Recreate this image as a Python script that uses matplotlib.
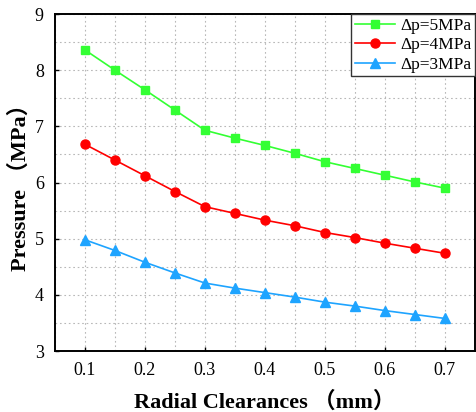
import numpy as np
import matplotlib
matplotlib.use("Agg")
import matplotlib.pyplot as plt
from matplotlib.ticker import MultipleLocator

# values
clearance = [0.10, 0.15, 0.20, 0.25, 0.30, 0.35, 0.40, 0.45, 0.50, 0.55, 0.60, 0.65, 0.70]
p5 = [8.36, 8.00, 7.65, 7.29, 6.93, 6.79, 6.66, 6.52, 6.37, 6.25, 6.13, 6.01, 5.90]
p4 = [6.68, 6.40, 6.12, 5.84, 5.57, 5.45, 5.33, 5.23, 5.11, 5.02, 4.92, 4.83, 4.74]
p3 = [4.98, 4.79, 4.58, 4.39, 4.21, 4.12, 4.04, 3.96, 3.87, 3.80, 3.72, 3.65, 3.58]
labels = ["Δp=5MPa", "Δp=4MPa", "Δp=3MPa"]

plt.rcParams["font.family"] = ["Liberation Serif", "Noto Sans CJK SC"]

fig = plt.figure(figsize=(4.76, 4.12), dpi=100)
ax = fig.add_axes([0.1155, 0.148, 0.882, 0.818])

ax.plot(clearance, p5, color="#33ff33", marker="s", markersize=5.5, lw=1.2, label=labels[0])
ax.plot(clearance, p4, color="#ff0000", marker="o", markersize=6.5, lw=1.2, label=labels[1])
ax.plot(clearance, p3, color="#1ea4ff", marker="^", markersize=7, lw=1.2, label=labels[2])

ax.set_xlim(0.05, 0.75)
ax.set_ylim(3, 9)
ax.xaxis.set_minor_locator(MultipleLocator(0.05))
ax.yaxis.set_major_locator(MultipleLocator(1))
ax.yaxis.set_minor_locator(MultipleLocator(0.5))
ax.set_xticks(np.arange(0.1, 0.71, 0.1))
ax.set_xticklabels(["0.1", "0.2", "0.3", "0.4", "0.5", "0.6", "0.7"])

ax.grid(True, which="both", ls=(0, (1.5, 2.5)), color="#b8b8b8", lw=0.8)
ax.tick_params(which="major", direction="in", length=3, width=1, labelsize=13, pad=8)
ax.tick_params(which="minor", length=0)
for s in ax.spines.values():
    s.set_linewidth(1.4)

ax.set_xlabel("Radial Clearances （mm）", fontsize=16, fontweight="bold", labelpad=9)
ax.set_ylabel("Pressure （MPa）", fontsize=16, fontweight="bold")
ax.yaxis.set_label_coords(-0.058, 0.5)

leg = ax.legend(loc="upper right", fontsize=12.5, fancybox=False, framealpha=1,
                edgecolor="#333333", borderaxespad=0, handlelength=2.3,
                borderpad=0.2, labelspacing=0.2, handletextpad=0.3)
leg.get_frame().set_linewidth(1.0)

fig.savefig("out.png", dpi=100)
